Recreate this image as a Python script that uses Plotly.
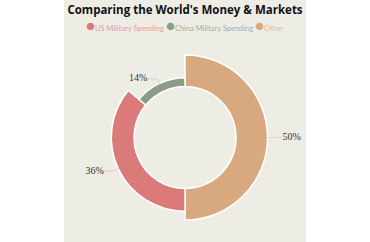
import math
import plotly.graph_objects as go

# ---- data ----
categories = ["Other", "US Military Spending", "China Military Spending"]
values = [50, 36, 14]  # percent
colors = ["#d8a97f", "#da7a79", "#8c9d87"]
legend_order = ["US Military Spending", "China Military Spending", "Other"]
legend_text_colors = {"US Military Spending": "#e39c9b",
                      "China Military Spending": "#a3ae9f",
                      "Other": "#e2bc98"}
title = "Comparing the World's Money & Markets"

W, H = 370, 242
CX, CY = 185, 137.5        # pie centre in px (from top-left)
R_AXIS = 100               # radial axis range -> pixels
INNER = 51                 # inner radius (px units)
SCALE = (82.5 - INNER) / max(values)   # rose-type radius per percent

total = sum(values)
widths = [v / total * 360 for v in values]
starts = [sum(widths[:i]) for i in range(len(values))]
mids = [s + w / 2 for s, w in zip(starts, widths)]
lengths = [v * SCALE for v in values]

fig = go.Figure()

# panel background
fig.add_shape(type="rect", xref="paper", yref="paper",
              x0=64 / W, x1=306 / W, y0=0, y1=1,
              fillcolor="#eeede5", line_width=0, layer="below")

fig.add_trace(go.Barpolar(
    theta=mids, width=widths, r=lengths, base=[INNER] * len(values),
    marker=dict(color=colors, line=dict(color="white", width=1.5)),
    showlegend=False, hoverinfo="skip"))

# label lines + labels
def to_polar(x, y):
    r = math.hypot(x, y)
    ang = math.degrees(math.atan2(y, x))
    return r, 90 - ang

for v, m, ln, c in zip(values, mids, lengths, colors):
    rad = math.radians(90 - m)
    ro = INNER + ln
    x0, y0 = ro * math.cos(rad), ro * math.sin(rad)
    x1, y1 = (ro + 5) * math.cos(rad), (ro + 5) * math.sin(rad)
    side = 1 if x1 >= -1e-6 else -1
    x2, y2 = x1 + side * 10, y1
    pts = [to_polar(*p) for p in [(x0, y0), (x1, y1), (x2, y2)]]
    fig.add_trace(go.Scatterpolar(
        r=[p[0] for p in pts], theta=[p[1] for p in pts], mode="lines",
        line=dict(color=c, width=1), opacity=0.35, showlegend=False,
        hoverinfo="skip", cliponaxis=False))
    fig.add_trace(go.Scatterpolar(
        r=[pts[2][0]], theta=[pts[2][1]], mode="text",
        text=[f"{v}%"], textposition="middle right" if side > 0 else "middle left",
        textfont=dict(family="Liberation Serif", size=10, color="#333333"),
        showlegend=False, hoverinfo="skip", cliponaxis=False))

# legend as a single line of text
parts = []
for name in legend_order:
    c = colors[categories.index(name)]
    parts.append(f"<span style='color:{c};font-size:15px'>●</span>"
                 f"<span style='color:{legend_text_colors[name]}'>{name}</span>")
fig.add_annotation(text=" ".join(parts), xref="paper", yref="paper",
                   x=0.5, y=1 - 25 / H, xanchor="center", yanchor="middle",
                   showarrow=False, font=dict(family="Lato", size=7.5))

fig.update_layout(
    width=W, height=H, margin=dict(l=0, r=0, t=0, b=0),
    paper_bgcolor="white", plot_bgcolor="rgba(0,0,0,0)",
    title=dict(text=f"<b>{title}</b>", x=0.5, xanchor="center",
               y=1 - 9.5 / H, yanchor="middle",
               font=dict(family="Open Sans", size=11.5, color="#111111")),
    polar=dict(
        domain=dict(x=[(CX - R_AXIS) / W, (CX + R_AXIS) / W],
                    y=[(H - CY - R_AXIS) / H, (H - CY + R_AXIS) / H]),
        bgcolor="rgba(0,0,0,0)",
        radialaxis=dict(visible=False, range=[0, R_AXIS]),
        angularaxis=dict(visible=False, rotation=90, direction="clockwise"),
        barmode="overlay"),
    showlegend=False,
)

fig.write_html("out.html")
